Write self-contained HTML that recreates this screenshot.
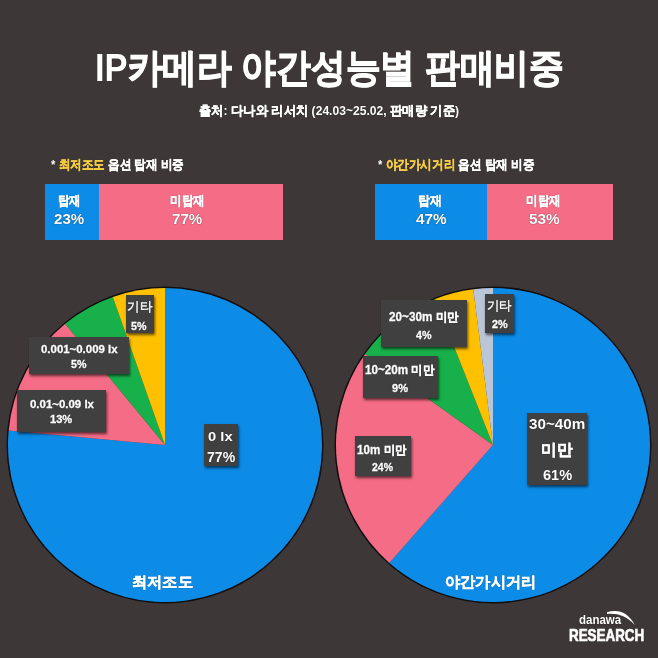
<!DOCTYPE html>
<html><head><meta charset="utf-8">
<style>
html,body{margin:0;padding:0;}
body{width:658px;height:658px;overflow:hidden;background:#3e3737;position:relative;
font-family:"Liberation Sans",sans-serif;color:#fff;}
.t{position:absolute;text-align:center;white-space:nowrap;line-height:1;}
.l{position:absolute;white-space:nowrap;line-height:1;transform-origin:0 0;text-shadow:0 0 1px rgba(0,0,0,0.75);}
.box{position:absolute;background:#404040;box-shadow:1px 1.5px 2.5px rgba(0,0,0,0.6);}
.bar{position:absolute;}
.k{-webkit-text-stroke:0.03em currentColor;}
svg{position:absolute;left:0;top:0;}
</style></head><body>
<div class="bar" style="left:45px;top:184px;width:54.4px;height:55.5px;background:#0c8be7"></div>
<div class="bar" style="left:99.4px;top:184px;width:183.6px;height:55.5px;background:#f46c85"></div>
<div class="bar" style="left:375px;top:184px;width:111.6px;height:55.5px;background:#0c8be7"></div>
<div class="bar" style="left:486.6px;top:184px;width:126.4px;height:55.5px;background:#f46c85"></div>
<svg width="658" height="658" viewBox="0 0 658 658">
<defs><filter id="blur1" x="-10%" y="-10%" width="120%" height="120%"><feGaussianBlur stdDeviation="0.6"/></filter></defs>
<circle cx="165" cy="445" r="157.5" fill="none" stroke="rgba(0,0,0,0.75)" stroke-width="2" filter="url(#blur1)"/>
<circle cx="493" cy="445" r="157.5" fill="none" stroke="rgba(0,0,0,0.75)" stroke-width="2" filter="url(#blur1)"/>
<path d="M165,445 L165.00,288.00 A157,157 0 1 1 8.67,430.50 Z" fill="#0c8be7"/>
<path d="M165,445 L8.67,430.50 A157,157 0 0 1 65.14,323.85 Z" fill="#f46c85"/>
<path d="M165,445 L65.14,323.85 A157,157 0 0 1 112.85,296.91 Z" fill="#18b04b"/>
<path d="M165,445 L112.85,296.91 A157,157 0 0 1 165.00,288.00 Z" fill="#ffc000"/>
<path d="M493,445 L493.00,288.00 A157,157 0 1 1 389.38,562.95 Z" fill="#0c8be7"/>
<path d="M493,445 L389.38,562.95 A157,157 0 0 1 365.18,353.83 Z" fill="#f46c85"/>
<path d="M493,445 L365.18,353.83 A157,157 0 0 1 435.20,299.03 Z" fill="#18b04b"/>
<path d="M493,445 L435.20,299.03 A157,157 0 0 1 473.32,289.24 Z" fill="#ffc000"/>
<path d="M493,445 L473.32,289.24 A157,157 0 0 1 493.00,288.00 Z" fill="#bac5d8"/>
</svg>
<div class="box" style="left:125.6px;top:295.3px;width:28.5px;height:38.0px"></div>
<div class="box" style="left:28.7px;top:336.5px;width:100.8px;height:37.0px"></div>
<div class="box" style="left:16.8px;top:389.9px;width:89.7px;height:41.900000000000034px"></div>
<div class="box" style="left:204.1px;top:424.1px;width:34.20000000000002px;height:41.89999999999998px"></div>
<div class="box" style="left:381px;top:299.5px;width:86px;height:47.5px"></div>
<div class="box" style="left:485px;top:293.8px;width:29.299999999999955px;height:38.89999999999998px"></div>
<div class="box" style="left:362.5px;top:356.2px;width:75.30000000000001px;height:41.69999999999999px"></div>
<div class="box" style="left:355.3px;top:436.3px;width:55.39999999999998px;height:39.30000000000001px"></div>
<div class="box" style="left:527.3px;top:413px;width:60.10000000000002px;height:71.5px"></div>
<svg width="658" height="658" viewBox="0 0 658 658"><path d="M607,612.3 C617,608.8 628,611.5 634.8,625 C626,615.5 617,613 607,614 Z" fill="#fff"/></svg>
<div class="l" style="left:94.74px;top:49.49px;font-size:38.7px;font-weight:700;transform:scaleX(0.8913);">IP<span class="k">카메라</span> <span class="k">야간성능별</span> <span class="k">판매비중</span></div>
<div class="l" style="left:199.04px;top:104.72px;font-size:12.8px;font-weight:700;transform:scaleX(0.9467);"><span class="k">출처</span>: <span class="k">다나와</span> <span class="k">리서치</span> (24.03~25.02, <span class="k">판매량</span> <span class="k">기준</span>)</div>
<div class="l" style="left:50.66px;top:159.3px;font-size:12.6px;font-weight:700;transform:scaleX(0.8932);">* <span style="color:#f4cc46"><span class="k">최저조도</span></span> <span class="k">옵션</span> <span class="k">탑재</span> <span class="k">비중</span></div>
<div class="l" style="left:378.26px;top:159.3px;font-size:12.6px;font-weight:700;transform:scaleX(0.8931);">* <span style="color:#f4cc46"><span class="k">야간가시거리</span></span> <span class="k">옵션</span> <span class="k">탑재</span> <span class="k">비중</span></div>
<div class="l" style="left:58.19px;top:195.0px;font-size:12.6px;font-weight:700;transform:scaleX(0.8793);"><span class="k">탑재</span></div>
<div class="l" style="left:54.31px;top:211.79px;font-size:14.0px;font-weight:700;transform:scaleX(1.0757);">23%</div>
<div class="l" style="left:170.34px;top:195.0px;font-size:12.6px;font-weight:700;transform:scaleX(0.8878);"><span class="k">미탑재</span></div>
<div class="l" style="left:171.88px;top:211.5px;font-size:14.0px;font-weight:700;transform:scaleX(1.0805);">77%</div>
<div class="l" style="left:417.56px;top:195.1px;font-size:12.6px;font-weight:700;transform:scaleX(0.9168);"><span class="k">탑재</span></div>
<div class="l" style="left:416.16px;top:211.8px;font-size:14.0px;font-weight:700;transform:scaleX(1.0922);">47%</div>
<div class="l" style="left:525.74px;top:195.0px;font-size:12.6px;font-weight:700;transform:scaleX(0.8878);"><span class="k">미탑재</span></div>
<div class="l" style="left:528.53px;top:211.9px;font-size:14.0px;font-weight:700;transform:scaleX(1.0967);">53%</div>
<div class="l" style="left:126.7px;top:301.28px;font-size:12.8px;font-weight:400;transform:scaleX(0.9626);"><span class="k">기타</span></div>
<div class="l" style="left:131.22px;top:320.9px;font-size:11.3px;font-weight:700;transform:scaleX(0.9428);-webkit-text-stroke:0.3px #fff;">5%</div>
<div class="l" style="left:40.94px;top:343.59px;font-size:11.1px;font-weight:700;transform:scaleX(1.03);-webkit-text-stroke:0.3px #fff;">0.001~0.009 lx</div>
<div class="l" style="left:71.42px;top:359.4px;font-size:11.3px;font-weight:700;transform:scaleX(0.9428);-webkit-text-stroke:0.3px #fff;">5%</div>
<div class="l" style="left:29.74px;top:398.89px;font-size:11.1px;font-weight:700;transform:scaleX(1.0312);-webkit-text-stroke:0.3px #fff;">0.01~0.09 lx</div>
<div class="l" style="left:50.35px;top:413.6px;font-size:11.3px;font-weight:700;transform:scaleX(0.9806);-webkit-text-stroke:0.3px #fff;">13%</div>
<div class="l" style="left:207.65px;top:429.86px;font-size:13.5px;font-weight:700;transform:scaleX(1.0931);">0 lx</div>
<div class="l" style="left:206.74px;top:449.5px;font-size:14.5px;font-weight:700;transform:scaleX(0.97);">77%</div>
<div class="l" style="left:131.95px;top:574.06px;font-size:15.3px;font-weight:700;transform:scaleX(1.0164);"><span class="k">최저조도</span></div>
<div class="l" style="left:388.91px;top:311.36px;font-size:12.3px;font-weight:700;transform:scaleX(0.9532);-webkit-text-stroke:0.3px #fff;">20~30m <span class="k">미만</span></div>
<div class="l" style="left:416.18px;top:329.78px;font-size:11.3px;font-weight:700;transform:scaleX(0.9515);-webkit-text-stroke:0.3px #fff;">4%</div>
<div class="l" style="left:486.7px;top:300.38px;font-size:12.8px;font-weight:400;transform:scaleX(0.9586);"><span class="k">기타</span></div>
<div class="l" style="left:491.63px;top:319.07px;font-size:11.3px;font-weight:700;transform:scaleX(0.9606);-webkit-text-stroke:0.3px #fff;">2%</div>
<div class="l" style="left:364.62px;top:363.76px;font-size:12.3px;font-weight:700;transform:scaleX(0.949);-webkit-text-stroke:0.3px #fff;">10~20m <span class="k">미만</span></div>
<div class="l" style="left:391.8px;top:383.17px;font-size:11.3px;font-weight:700;transform:scaleX(0.9815);-webkit-text-stroke:0.3px #fff;">9%</div>
<div class="l" style="left:357.32px;top:444.06px;font-size:12.3px;font-weight:700;transform:scaleX(0.9457);-webkit-text-stroke:0.3px #fff;">10m <span class="k">미만</span></div>
<div class="l" style="left:371.65px;top:461.7px;font-size:11.3px;font-weight:700;transform:scaleX(0.9269);-webkit-text-stroke:0.3px #fff;">24%</div>
<div class="l" style="left:529.38px;top:417.19px;font-size:14.5px;font-weight:700;transform:scaleX(1.049);">30~40m</div>
<div class="l" style="left:540.7px;top:442.19px;font-size:15.5px;font-weight:700;transform:scaleX(0.9809);"><span class="k">미만</span></div>
<div class="l" style="left:542.89px;top:467.6px;font-size:14.5px;font-weight:700;transform:scaleX(1.0062);">61%</div>
<div class="l" style="left:445.07px;top:574.31px;font-size:15.3px;font-weight:700;transform:scaleX(1.0133);"><span class="k">야간가시거리</span></div>
<div class="l" style="left:578.54px;top:614.48px;font-size:12.5px;font-weight:700;transform:scaleX(0.9188);">danawa</div>
<div class="l" style="left:568.97px;top:627.0px;font-size:16.5px;font-weight:700;transform:scaleX(0.8119);-webkit-text-stroke:0.7px #fff;">RESEARCH</div>
</body></html>
